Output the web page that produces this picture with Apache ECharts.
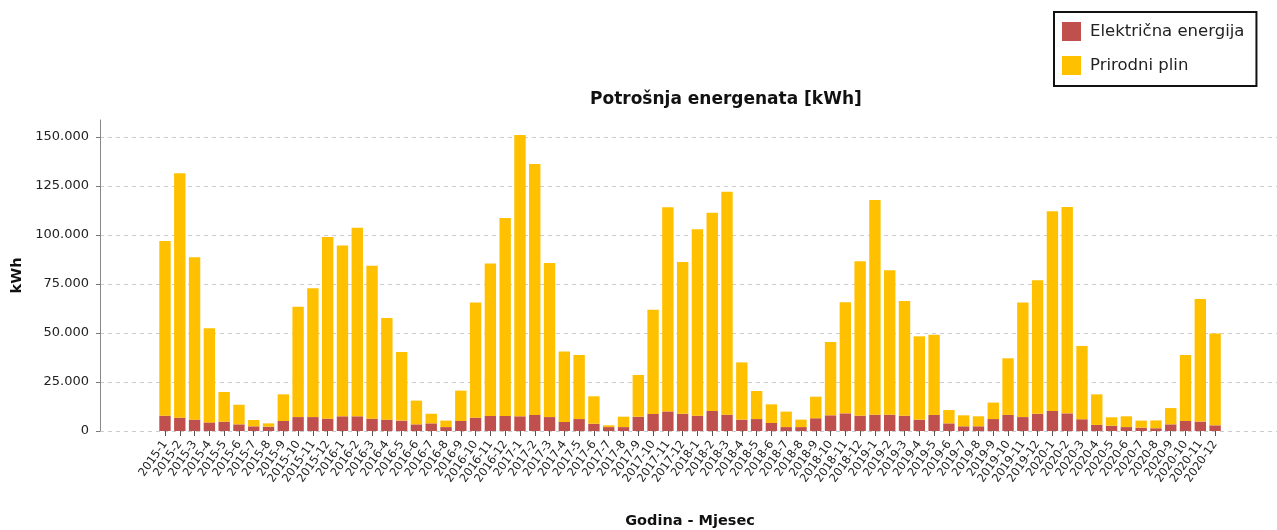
<!DOCTYPE html>
<html>
<head>
<meta charset="utf-8">
<script src="https://cdn.jsdelivr.net/npm/echarts@6/dist/echarts.min.js"></script>
<style>html,body{margin:0;padding:0;background:#fff}#c{width:1277px;height:530px}</style>
</head>
<body>
<div id="c"></div>
<script>
const years = [2015, 2016, 2017, 2018, 2019, 2020];
const categories = [];
years.forEach(y => { for (let m = 1; m <= 12; m++) categories.push(y + '-' + m); });

// totals (kWh)
const totalValues = [
  96900, 131500, 88600, 52400, 19900, 13400, 5600, 3900, 18700, 63400, 72800, 99000,
  94700, 103700, 84300, 57700, 40300, 15500, 8800, 5300, 20600, 65600, 85500, 108700,
  151000, 136200, 85700, 40500, 38800, 17700, 2900, 7300, 28600, 61900, 114100, 86200,
  102900, 111400, 122100, 35000, 20400, 13600, 9900, 5800, 17500, 45400, 65700, 86600,
  117900, 82000, 66300, 48300, 49100, 10700, 8000, 7500, 14500, 37100, 65600, 76900,
  112100, 114300, 43400, 18700, 7000, 7500, 5300, 5400, 11700, 38800, 67300, 49800
];
const electricity = [
  7800, 6800, 5800, 4400, 4700, 3400, 2400, 2200, 5100, 7100, 7100, 6300,
  7500, 7500, 6300, 5800, 5300, 3400, 3900, 2000, 5100, 6800, 7700, 7700,
  7500, 8200, 7100, 4600, 6100, 3700, 2000, 2000, 7300, 8700, 10000, 8800,
  7800, 10200, 8300, 5800, 6100, 4100, 2000, 2000, 6500, 8000, 9000, 7800,
  8300, 8300, 7800, 5800, 8200, 3900, 2400, 2400, 6100, 8200, 7100, 8800,
  10200, 9000, 6000, 3100, 2700, 2000, 1700, 1400, 3400, 5100, 4800, 2900
];
const naturalGas = totalValues.map((t, i) => t - electricity[i]);
const seriesNames = ['Električna energija', 'Prirodni plin'];

const fmt = v => String(Math.round(v)).replace(/\B(?=(\d{3})+(?!\d))/g, '.');
const FONT = 'DejaVu Sans';

const chart = echarts.init(document.getElementById('c'));
chart.setOption({
  animation: false,
  textStyle: { fontFamily: FONT },
  title: {
    text: 'Potrošnja energenata [kWh]',
    left: 585, top: 86,
    textStyle: { fontFamily: FONT, fontSize: 17, fontWeight: 'bold', color: '#111' }
  },
  legend: {
    orient: 'vertical',
    left: 1054, top: 12,
    padding: [10, 12, 11, 8],
    borderColor: '#111', borderWidth: 2,
    itemWidth: 19, itemHeight: 19, itemGap: 15,
    icon: 'rect',
    textStyle: { fontFamily: FONT, fontSize: 16.5, color: '#222', padding: [0, 0, 0, 4] },
    data: seriesNames
  },
  grid: [
    { left: 100, right: 0, top: 137, bottom: 99, outerBoundsMode: 'none', containLabel: false },
    { left: 100, right: 0, top: 120, bottom: 99, outerBoundsMode: 'none', containLabel: false },
    { left: 157.6, right: 54.5, top: 137, bottom: 99, outerBoundsMode: 'none', containLabel: false }
  ],
  xAxis: [
    { gridIndex: 0, type: 'value', show: false, min: 0, max: 1 },
    { gridIndex: 1, type: 'value', show: false, min: 0, max: 1 },
    {
      gridIndex: 2, type: 'category', data: categories,
      name: 'Godina - Mjesec', nameLocation: 'middle', nameGap: 83,
      nameTextStyle: { fontFamily: FONT, fontSize: 14.5, fontWeight: 'bold', color: '#111' },
      axisLine: { show: false },
      axisTick: { show: true, alignWithLabel: true, length: 5, lineStyle: { color: '#555' } },
      axisLabel: { interval: 0, rotate: 55, fontSize: 11.5, color: '#222', margin: 11, fontFamily: FONT }
    }
  ],
  yAxis: [
    {
      gridIndex: 0, type: 'value', min: 0, max: 150000, interval: 25000,
      axisLine: { show: false },
      axisTick: { show: true, length: 4, lineStyle: { color: '#777' } },
      axisLabel: { formatter: v => fmt(v), fontSize: 13, color: '#222', margin: 11, fontFamily: FONT },
      splitLine: { show: true, lineStyle: { color: '#ccc', type: [4, 4], width: 1 } }
    },
    {
      gridIndex: 1, type: 'value', min: 0, max: 1,
      name: 'kWh', nameLocation: 'middle', nameGap: 75,
      nameTextStyle: { fontFamily: FONT, fontSize: 14.5, fontWeight: 'bold', color: '#111' },
      axisLine: { show: true, lineStyle: { color: '#888', width: 1 } },
      axisTick: { show: false }, axisLabel: { show: false }, splitLine: { show: false }
    },
    {
      gridIndex: 2, type: 'value', min: 0, max: 150000, show: false,
      splitLine: { show: false }
    }
  ],
  series: [
    {
      name: seriesNames[0], type: 'bar', stack: 'e', xAxisIndex: 2, yAxisIndex: 2,
      data: electricity, barWidth: '77%', clip: false,
      itemStyle: { color: '#C0504D' }
    },
    {
      name: seriesNames[1], type: 'bar', stack: 'e', xAxisIndex: 2, yAxisIndex: 2,
      data: naturalGas, barWidth: '77%', clip: false,
      itemStyle: { color: '#FFC000' }
    }
  ]
});
</script>
</body>
</html>
